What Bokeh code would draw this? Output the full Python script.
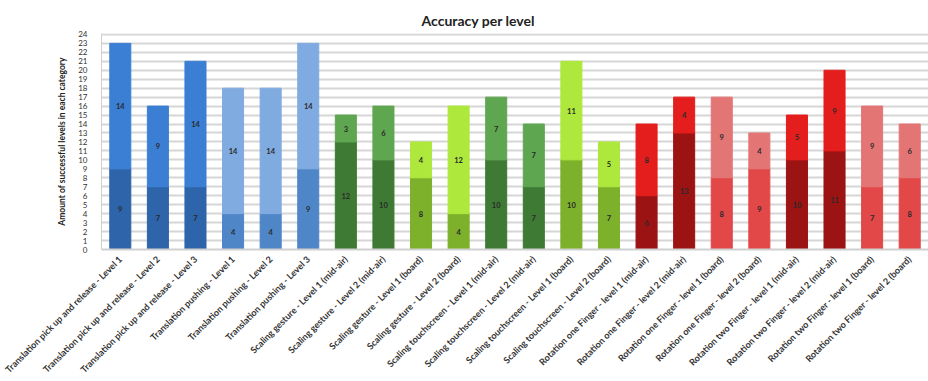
import math
from bokeh.plotting import figure
from bokeh.models import ColumnDataSource, FactorRange, SingleIntervalTicker
from bokeh.core.properties import value
from bokeh.embed import file_html
from bokeh.resources import INLINE

# Levels (x-axis categories)
levels = [
    "Translation pick up and release - Level 1",
    "Translation pick up and release - Level 2",
    "Translation pick up and release - Level 3",
    "Translation pushing - Level 1",
    "Translation pushing - Level 2",
    "Translation pushing - Level 3",
    "Scaling gesture - Level 1 (mid-air)",
    "Scaling gesture - Level 2 (mid-air)",
    "Scaling gesture - Level 1 (board)",
    "Scaling gesture - Level 2 (board)",
    "Scaling touchscreen - Level 1 (mid-air)",
    "Scaling touchscreen - Level 2 (mid-air)",
    "Scaling touchscreen - Level 1 (board)",
    "Scaling touchscreen - Level 2 (board)",
    "Rotation one Finger - level 1 (mid-air)",
    "Rotation one Finger - level 2 (mid-air)",
    "Rotation one Finger - level 1 (board)",
    "Rotation one Finger - level 2 (board)",
    "Rotation two Finger - level 1 (mid-air)",
    "Rotation two Finger - level 2 (mid-air)",
    "Rotation two Finger - level 1 (board)",
    "Rotation two Finger - level 2 (board)",
]

# Stacked segments: lower and upper part of each bar
lower = [9, 7, 7, 4, 4, 9, 12, 10, 8, 4, 10, 7, 10, 7, 6, 13, 8, 9, 10, 11, 7, 8]
upper = [14, 9, 14, 14, 14, 14, 3, 6, 4, 12, 7, 7, 11, 5, 8, 4, 9, 4, 5, 9, 9, 6]

# Colour group of each bar
groups = ["tpick"] * 3 + ["tpush"] * 3 + ["smid", "smid", "sboard", "sboard",
          "smid", "smid", "sboard", "sboard"] + ["rmid", "rmid", "rboard", "rboard",
          "rmid", "rmid", "rboard", "rboard"]

palette_lower = {"tpick": "#2e64aa", "tpush": "#4e86c8", "smid": "#3e7a34",
                 "sboard": "#7db02b", "rmid": "#9c1313", "rboard": "#e24848"}
palette_upper = {"tpick": "#3b7fd4", "tpush": "#80abe0", "smid": "#5fa651",
                 "sboard": "#aee83c", "rmid": "#e41d1d", "rboard": "#e47575"}

top_total = [a + b for a, b in zip(lower, upper)]
src = ColumnDataSource(dict(
    x=levels,
    lower=lower,
    upper=upper,
    total=top_total,
    zero=[0] * len(levels),
    c_lo=[palette_lower[g] for g in groups],
    c_up=[palette_upper[g] for g in groups],
    lo_mid=[v / 2 for v in lower],
    up_mid=[a + b / 2 for a, b in zip(lower, upper)],
    lo_txt=[str(v) for v in lower],
    up_txt=[str(v) for v in upper],
))

FONT = "Lato"

p = figure(
    width=928, height=381,
    x_range=FactorRange(*levels, range_padding=0),
    y_range=(0, 24.1),
    output_backend="svg", toolbar_location=None,
    title="Accuracy per level",
    min_border_left=101, min_border_right=0, min_border_top=33,
)
p.outline_line_color = None

p.vbar(x="x", bottom="zero", top="lower", width=0.56, source=src,
       fill_color="c_lo", line_color="c_lo", line_width=1)
p.vbar(x="x", bottom="lower", top="total", width=0.56, source=src,
       fill_color="c_up", line_color="c_up", line_width=1)

for ycol, tcol in (("lo_mid", "lo_txt"), ("up_mid", "up_txt")):
    p.text(x="x", y=ycol, text=tcol, source=src, text_align="center",
           text_baseline="middle", text_font=value(FONT), text_font_size="7.5px",
           text_font_style="bold", text_color="#2a2a2a")

# Title
p.title.text_font = FONT
p.title.text_font_size = "14px"
p.title.text_font_style = "bold"
p.title.text_color = "#222222"
p.title.align = "left"
p.title.offset = 320

# Y axis
p.yaxis.ticker = SingleIntervalTicker(interval=1)
p.yaxis.major_label_text_font = FONT
p.yaxis.major_label_text_font_size = "8px"
p.yaxis.major_label_text_color = "#333333"
p.yaxis.major_tick_line_color = None
p.yaxis.minor_tick_line_color = None
p.yaxis.axis_line_color = "#d0d0d0"
p.yaxis.major_label_standoff = 8
p.yaxis.axis_label = "Amount of successful levels in each category"
p.yaxis.axis_label_text_font = FONT
p.yaxis.axis_label_text_font_size = "8.5px"
p.yaxis.axis_label_text_font_style = "bold"
p.yaxis.axis_label_text_color = "#222222"
p.yaxis.axis_label_standoff = 8

# X axis
p.xaxis.major_label_orientation = math.pi / 4
p.xaxis.major_label_text_font = FONT
p.xaxis.major_label_text_font_size = "9.1px"
p.xaxis.major_label_text_font_style = "bold"
p.xaxis.major_label_text_color = "#333333"
p.xaxis.major_tick_line_color = None
p.xaxis.axis_line_color = "#d0d0d0"
p.xaxis.axis_line_width = 2
p.xaxis.major_label_standoff = 2

p.xgrid.grid_line_color = None
p.ygrid.grid_line_color = "#d6d6d6"
p.ygrid.grid_line_width = 2

open("out.html", "w").write(file_html(p, INLINE))
